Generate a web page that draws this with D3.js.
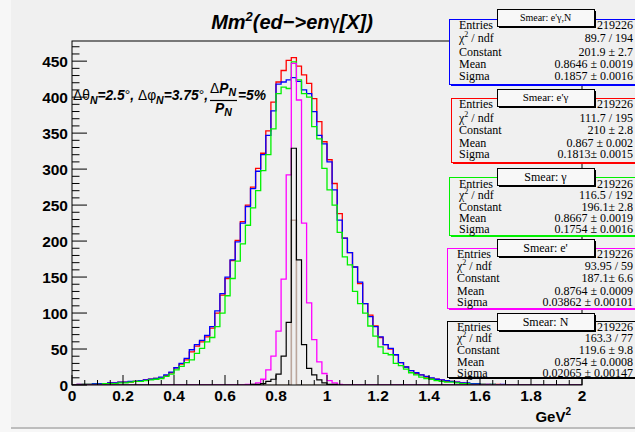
<!DOCTYPE html>
<html><head><meta charset="utf-8">
<script src="https://cdn.jsdelivr.net/npm/d3@7"></script>
<style>body{margin:0;background:#f7f7f7}svg{display:block}</style>
</head><body><svg id="c" width="635" height="432"></svg>
<script>
// ---------- data ----------
const binWidth = 0.02;   // histogram bin width (GeV^2), 100 bins from 0 to 2
const xTickLabels = ["0","0.2","0.4","0.6","0.8","1","1.2","1.4","1.6","1.8","2"];
const yTickLabels = ["0","50","100","150","200","250","300","350","400","450"];

// Smear: e'γ,N (blue)
const histBlue = [0,1,1,1,2,2,2,3,3,4,
 4,5,5,6,7,8,9,11,14,18,
 24,30,37,49,56,62,69,81,103,127,
 150,174,199,225,248,273,297,320,347,381,
 418,421,424,427,422,410,405,380,347,335,
 310,271,229,204,184,164,143,113,95,81,
 67,56,51,42,31,25,20,17,14,12,
 10,8,7,6,5,4,3,3,2,2,
 1,1,1,0,1,0,0,0,0,0,
 0,0,0,0,0,0,0,0,0,0];
// Smear: e'γ (red)
const histRed = [0,1,1,1,1,2,2,3,3,4,
 4,4,5,6,7,8,9,10,13,17,
 24,29,35,46,54,60,67,79,100,125,
 148,173,201,227,250,275,301,322,353,393,
 421,437,451,455,443,431,419,398,366,338,
 313,280,238,204,184,164,141,113,97,82,
 66,56,50,42,31,25,20,16,14,11,
 9,8,7,5,5,4,3,2,2,1,
 1,1,0,1,0,0,0,0,0,0,
 0,0,0,0,0,0,0,0,0,0];
// Smear: γ (green)
const histGreen = [0,0,1,1,1,1,2,2,2,3,
 3,4,5,5,6,7,8,9,12,15,
 21,26,31,35,44,51,60,66,81,100,
 124,148,172,196,222,246,270,298,320,356,
 405,414,412,449,424,405,400,359,342,301,
 271,250,212,178,167,130,113,100,82,68,
 53,44,42,30,27,22,17,14,11,9,
 8,6,5,4,4,3,2,2,1,1,
 1,0,1,0,0,0,0,0,0,0,
 0,0,0,0,0,0,0,0,0,0];
// Smear: e' (magenta)
const histMagenta = [0,0,0,0,0,0,0,0,0,0,
 0,0,0,0,0,0,0,0,0,0,
 0,0,0,0,0,0,0,0,0,0,
 0,0,0,0,1,1,3,8,21,40,
 75,147,292,447,396,225,114,63,32,16,
 6,3,1,0,0,0,0,0,0,0,
 0,0,0,0,0,0,0,0,0,0,
 0,0,0,0,0,0,0,0,0,0,
 0,0,0,0,0,0,0,0,0,0,
 0,0,0,0,0,0,0,0,0,0];
// Smear: N (black)
const histBlack = [0,0,0,0,0,0,0,0,0,0,
 0,0,0,0,0,0,0,0,0,0,
 0,0,0,0,0,0,0,0,0,0,
 0,0,0,0,0,1,1,2,5,8,
 15,40,87,329,174,56,23,14,7,3,
 1,1,0,0,0,0,0,0,0,0,
 0,0,0,0,0,0,0,0,0,0,
 0,0,0,0,0,0,0,0,0,0,
 0,0,0,0,0,0,0,0,0,0,
 0,0,0,0,0,0,0,0,0,0];
// unsmeared (tan)
const histTan = [0,0,0,0,0,0,0,0,0,0,
 0,0,0,0,0,0,0,0,0,0,
 0,0,0,0,0,0,0,0,0,0,
 0,0,0,0,0,0,0,0,0,0,
 0,0,0,229,0,0,0,0,0,0,
 0,0,0,0,0,0,0,0,0,0,
 0,0,0,0,0,0,0,0,0,0,
 0,0,0,0,0,0,0,0,0,0,
 0,0,0,0,0,0,0,0,0,0,
 0,0,0,0,0,0,0,0,0,0];

// stat boxes
const statTitles  = ["Smear: e'γ,N","Smear: e'γ","Smear: γ","Smear: e'","Smear: N"];
const statEntries = ["219226","219226","219226","219226","219226"];
const statChi2    = ["89.7 / 194","111.7 / 195","116.5 / 192","93.95 / 59","163.3 / 77"];
const statConst   = ["201.9 ± 2.7","210 ± 2.8","196.1± 2.8","187.1± 6.6","119.6 ± 9.8"];
const statMean    = ["0.8646 ± 0.0019","0.867 ± 0.002","0.8667 ± 0.0019","0.8764 ± 0.0009","0.8754 ± 0.0008"];
const statSigma   = ["0.1857 ± 0.0016","0.1813± 0.0015","0.1754 ± 0.0016","0.03862 ± 0.00101","0.02065 ± 0.00147"];

// ---------- drawing ----------
const svg = d3.select("#c");
const W = 635, H = 432;
const F = {l:72, r:582, t:41, b:385};
const x = d3.scaleLinear().domain([0,2]).range([F.l,F.r]);
const y = d3.scaleLinear().domain([0,478]).range([F.b,F.t]);

svg.append("rect").attr("width",W).attr("height",H).attr("fill","#f7f7f7");
svg.append("rect").attr("x",11).attr("y",0).attr("width",W-11).attr("height",427).attr("fill","#f0f0f0");
svg.append("rect").attr("x",11).attr("y",427).attr("width",W-11).attr("height",2).attr("fill","#bdbdbd");

const sans = "'Liberation Sans', Arial, Helvetica, sans-serif";
const serif = "'Liberation Serif', 'Times New Roman', serif";

// clip
svg.append("clipPath").attr("id","fr").append("rect")
  .attr("x",F.l).attr("y",F.t).attr("width",F.r-F.l).attr("height",F.b-F.t);

function histPath(vals){
  const pts = vals.map((v,i)=>[i*binWidth, v]);
  pts.push([vals.length*binWidth, vals[vals.length-1]]);
  return d3.line().x(d=>x(d[0])).y(d=>y(d[1])).curve(d3.curveStepAfter)(pts);
}
const g = svg.append("g").attr("clip-path","url(#fr)");
const series = [
  {v:histTan, c:"#bba69c", w:1.6},
  {v:histRed, c:"#ff0000", w:1.3},
  {v:histBlue, c:"#0000ff", w:1.3},
  {v:histGreen, c:"#00f000", w:1.3},
  {v:histMagenta, c:"#ff00ff", w:1.3},
  {v:histBlack, c:"#000000", w:1.2}
];
series.forEach(s=>{
  g.append("path").attr("d",histPath(s.v)).attr("fill","none")
   .attr("stroke",s.c).attr("stroke-width",s.w);
});

// frame
svg.append("rect").attr("x",F.l).attr("y",F.t).attr("width",F.r-F.l).attr("height",F.b-F.t)
  .attr("fill","none").attr("stroke","#000").attr("stroke-width",1);

// x ticks
const xMajor = xTickLabels.map(Number);
const ax = svg.append("g").attr("stroke","#000").attr("stroke-width",1);
d3.range(0, 2.0001, 0.05).forEach(v=>{
  const isMaj = xMajor.some(m=>Math.abs(m-v)<1e-6);
  ax.append("line").attr("x1",x(v)).attr("x2",x(v)).attr("y1",F.b).attr("y2",F.b-(isMaj?10:5));
});
// y ticks
const yMajor = yTickLabels.map(Number);
d3.range(0, 478, 10).forEach(v=>{
  const isMaj = yMajor.includes(v);
  ax.append("line").attr("x1",F.l).attr("x2",F.l+(isMaj?15:7.5)).attr("y1",y(v)).attr("y2",y(v));
});
// tick labels
xTickLabels.forEach(t=>{
  svg.append("text").attr("x",x(+t)).attr("y",401).attr("text-anchor","middle")
   .attr("font-family",sans).attr("font-weight","bold").attr("font-size",15.5).text(t);
});
yTickLabels.forEach(t=>{
  svg.append("text").attr("x",68).attr("y",y(+t)+5.5).attr("text-anchor","end")
   .attr("font-family",sans).attr("font-weight","bold").attr("font-size",15.5).text(t);
});
// x axis title
const xt = svg.append("text").attr("x",571).attr("y",422).attr("text-anchor","end")
  .attr("font-family",sans).attr("font-weight","bold").attr("font-size",15);
xt.append("tspan").text("GeV");
xt.append("tspan").attr("dy",-7).attr("font-size",10).text("2");

// title
const tt = svg.append("text").attr("x",292).attr("y",29).attr("text-anchor","middle")
  .attr("font-family",sans).attr("font-weight","bold").attr("font-style","italic").attr("font-size",20);
tt.append("tspan").text("Mm");
tt.append("tspan").attr("dy",-8).attr("font-size",13).text("2");
tt.append("tspan").attr("dy",8).text("(ed−>en");
tt.append("tspan").attr("font-weight","normal").attr("font-style","normal").text("γ");
tt.append("tspan").text("[X])");

// annotation
const AF = 13.8, AS = 10.5;
const an = svg.append("text").attr("x",73).attr("y",100)
  .attr("font-family",sans).attr("font-weight","bold").attr("font-style","italic").attr("font-size",AF);
const reg = s => an.append("tspan").attr("font-weight","normal").attr("font-style","normal").text(s);
reg("Δθ");
an.append("tspan").attr("dy",4).attr("font-size",AS).text("N");
an.append("tspan").attr("dy",-4).text("=2.5");
reg("°");
an.append("tspan").text(", ");
reg("Δφ");
an.append("tspan").attr("dy",4).attr("font-size",AS).text("N");
an.append("tspan").attr("dy",-4).text("=3.75");
reg("°");
an.append("tspan").text(", ");
const fx = 73 + an.node().getComputedTextLength() + 2;
const num = svg.append("text").attr("x",fx).attr("y",93)
  .attr("font-family",sans).attr("font-weight","bold").attr("font-style","italic").attr("font-size",AF);
num.append("tspan").attr("font-weight","normal").attr("font-style","normal").text("Δ");
num.append("tspan").text("P");
num.append("tspan").attr("dy",3).attr("font-size",AS).text("N");
const nw = num.node().getComputedTextLength();
svg.append("line").attr("x1",fx).attr("x2",fx+nw+1).attr("y1",100.5).attr("y2",100.5)
  .attr("stroke","#000").attr("stroke-width",1.2);
const den = svg.append("text").attr("x",fx+nw/2+0.5).attr("y",113).attr("text-anchor","middle")
  .attr("font-family",sans).attr("font-weight","bold").attr("font-style","italic").attr("font-size",AF);
den.append("tspan").text("P");
den.append("tspan").attr("dy",3).attr("font-size",AS).text("N");
svg.append("text").attr("x",fx+nw+2).attr("y",100)
  .attr("font-family",sans).attr("font-weight","bold").attr("font-style","italic").attr("font-size",AF).text("=5%");

// stat boxes
const boxLayout = [
  {x:449, y:19,  h:65, c:"#0000ff", rows:[10,23,37,49,61], tx:459, ty:9,   tf:10},
  {x:451, y:98,  h:64, c:"#ff0000", rows:[10,24,36,49,60], tx:459, ty:89,  tf:11},
  {x:449, y:177, h:58, c:"#00f000", rows:[11,22,34,45,56], tx:459, ty:168, tf:12},
  {x:447, y:248, h:60, c:"#ff00ff", rows:[10,22,34,47,58], tx:457, ty:239, tf:12},
  {x:447, y:321, h:56, c:"#000000", rows:[10,21,33,45,56], tx:457, ty:313, tf:12}
];
boxLayout.forEach((b,i)=>{
  const bg = svg.append("g");
  bg.append("rect").attr("x",b.x+2).attr("y",b.y+2).attr("width",W+5-b.x).attr("height",b.h).attr("fill",b.c);
  bg.append("rect").attr("x",b.x+0.5).attr("y",b.y+0.5).attr("width",W+5-b.x).attr("height",b.h)
    .attr("fill","#f0f0f0").attr("stroke",b.c).attr("stroke-width",1);
  const labels = ["Entries", null, "Constant","Mean","Sigma"];
  const vals = [statEntries[i], statChi2[i], statConst[i], statMean[i], statSigma[i]];
  b.rows.forEach((r,k)=>{
    const t = bg.append("text").attr("x",b.tx).attr("y",b.y+r)
      .attr("font-family",serif).attr("font-size",12);
    if(labels[k]) t.text(labels[k]);
    else { t.append("tspan").text("χ"); t.append("tspan").attr("dy",-5).attr("font-size",8).text("2");
           t.append("tspan").attr("dy",5).text(" / ndf"); }
    bg.append("text").attr("x",633).attr("y",b.y+r).attr("text-anchor","end")
      .attr("font-family",serif).attr("font-size",12).text(vals[k]);
  });
  // title box
  const tw = 97, th = 17, tx0 = 497;
  bg.append("rect").attr("x",tx0+2).attr("y",b.ty+2).attr("width",tw).attr("height",th).attr("fill","#000");
  bg.append("rect").attr("x",tx0+0.5).attr("y",b.ty+0.5).attr("width",tw).attr("height",th)
    .attr("fill","#f8f8f8").attr("stroke","#000").attr("stroke-width",1);
  bg.append("text").attr("x",tx0+tw/2).attr("y",b.ty+th/2+b.tf*0.35).attr("text-anchor","middle")
    .attr("font-family",serif).attr("font-size",b.tf).text(statTitles[i]);
});
</script></body></html>
